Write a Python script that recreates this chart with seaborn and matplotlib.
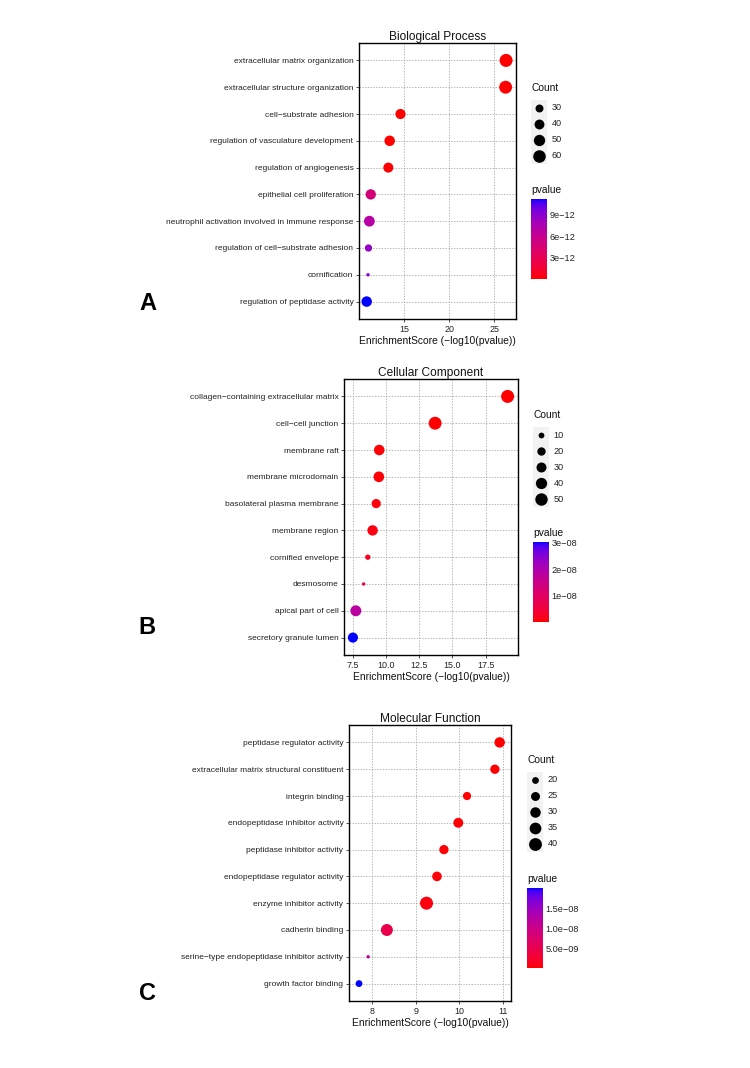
import numpy as np
import pandas as pd
import seaborn as sns
import matplotlib.pyplot as plt
from matplotlib.colors import LinearSegmentedColormap, Normalize
from matplotlib.cm import ScalarMappable

# ---- data ----
bp_terms = ["extracellular matrix organization", "extracellular structure organization",
            "cell\u2212substrate adhesion", "regulation of vasculature development",
            "regulation of angiogenesis", "epithelial cell proliferation",
            "neutrophil activation involved in immune response",
            "regulation of cell\u2212substrate adhesion", "cornification",
            "regulation of peptidase activity"]
bp_score = [26.3, 26.25, 14.6, 13.4, 13.25, 11.3, 11.15, 11.05, 11.0, 10.85]
bp_count = [64, 63, 42, 44, 41, 43, 46, 27, 20, 44]
bp_pvalue = [5e-27, 6e-27, 2.3e-15, 3.6e-14, 5.4e-14, 4.8e-12, 6.9e-12, 8.6e-12, 8.9e-12, 1.12e-11]

cc_terms = ["collagen\u2212containing extracellular matrix", "cell\u2212cell junction",
            "membrane raft", "membrane microdomain", "basolateral plasma membrane",
            "membrane region", "cornified envelope", "desmosome",
            "apical part of cell", "secretory granule lumen"]
cc_score = [19.15, 13.7, 9.5, 9.47, 9.27, 9.0, 8.64, 8.33, 7.74, 7.52]
cc_count = [56, 55, 34, 35, 25, 33, 9, 7, 37, 31]
cc_pvalue = [7e-20, 2e-14, 3.2e-10, 3.4e-10, 5.4e-10, 1.0e-9, 2.3e-9, 4.7e-9, 1.8e-8, 3.02e-8]

mf_terms = ["peptidase regulator activity", "extracellular matrix structural constituent",
            "integrin binding", "endopeptidase inhibitor activity",
            "peptidase inhibitor activity", "endopeptidase regulator activity",
            "enzyme inhibitor activity", "cadherin binding",
            "serine\u2212type endopeptidase inhibitor activity", "growth factor binding"]
mf_score = [10.93, 10.82, 10.18, 9.98, 9.65, 9.49, 9.25, 8.34, 7.91, 7.70]
mf_count = [30, 26, 23, 28, 26, 27, 41, 36, 17, 20]
mf_pvalue = [1.2e-11, 1.5e-11, 6.6e-11, 1.05e-10, 2.2e-10, 3.2e-10, 5.6e-10, 4.6e-9, 1.23e-8, 2.0e-8]

W, H = 750, 1068
FONT = ["Liberation Sans", "DejaVu Sans"]


def px_rect(l, t, r, b):
    return [l / W, 1 - b / H, (r - l) / W, (b - t) / H]


# red -> blue gradient interpolated in Lab, like ggplot's scale_colour_gradient
def srgb_to_lab(rgb):
    c = np.asarray(rgb, float)
    c = np.where(c > 0.04045, ((c + 0.055) / 1.055) ** 2.4, c / 12.92)
    M = np.array([[0.4124, 0.3576, 0.1805], [0.2126, 0.7152, 0.0722], [0.0193, 0.1192, 0.9505]])
    xyz = M @ c / np.array([0.95047, 1.0, 1.08883])
    f = np.where(xyz > 0.008856, np.cbrt(xyz), 7.787 * xyz + 16 / 116)
    return np.array([116 * f[1] - 16, 500 * (f[0] - f[1]), 200 * (f[1] - f[2])])


def lab_to_srgb(lab):
    L, a, b = lab
    fy = (L + 16) / 116
    f = np.array([fy + a / 500, fy, fy - b / 200])
    xyz = np.where(f ** 3 > 0.008856, f ** 3, (f - 16 / 116) / 7.787) * np.array([0.95047, 1.0, 1.08883])
    Minv = np.array([[3.2406, -1.5372, -0.4986], [-0.9689, 1.8758, 0.0415], [0.0557, -0.2040, 1.0570]])
    c = Minv @ xyz
    c = np.where(c > 0.0031308, 1.055 * np.abs(c) ** (1 / 2.4) - 0.055, 12.92 * c)
    return np.clip(c, 0, 1)


lab_r, lab_b = srgb_to_lab([1, 0, 0]), srgb_to_lab([0, 0, 1])
stops = [lab_to_srgb(lab_r + t * (lab_b - lab_r)) for t in np.linspace(0, 1, 64)]
cmap = LinearSegmentedColormap.from_list("red_blue_lab", stops)


def dot_area(c, cmin, cmax, dmin=3.4, dmax=13.0):
    d = dmin + (dmax - dmin) * np.sqrt((c - cmin) / (cmax - cmin))
    return (d * 72 / 100) ** 2


sns.set_theme(style="white")
plt.rcParams["font.family"] = FONT

fig = plt.figure(figsize=(W / 100, H / 100), dpi=100)

panels = [
    dict(title="Biological Process", terms=bp_terms, score=bp_score, count=bp_count, pvalue=bp_pvalue,
         ax=(359, 43, 516, 319), xlim=(10.0, 27.4), xticks=[15, 20, 25], xfmt="{:g}",
         breaks=[30, 40, 50, 60], key=(531, 100, 547), cbar=(531, 199, 547, 279),
         cticks=[3e-12, 6e-12, 9e-12], clabels=["3e\u221212", "6e\u221212", "9e\u221212"],
         letter="A", lpos=(148, 303)),
    dict(title="Cellular Component", terms=cc_terms, score=cc_score, count=cc_count, pvalue=cc_pvalue,
         ax=(344, 379, 518, 655), xlim=(6.85, 19.93), xticks=[7.5, 10, 12.5, 15, 17.5], xfmt="{:.1f}",
         breaks=[10, 20, 30, 40, 50], key=(533, 427, 549), cbar=(533, 542, 549, 622),
         cticks=[1e-8, 2e-8, 3e-8], clabels=["1e\u221208", "2e\u221208", "3e\u221208"],
         letter="B", lpos=(147, 628)),
    dict(title="Molecular Function", terms=mf_terms, score=mf_score, count=mf_count, pvalue=mf_pvalue,
         ax=(349, 725, 511, 1001), xlim=(7.47, 11.19), xticks=[8, 9, 10, 11], xfmt="{:g}",
         breaks=[20, 25, 30, 35, 40], key=(527, 772, 543), cbar=(527, 888, 543, 968),
         cticks=[5e-9, 1e-8, 1.5e-8], clabels=["5.0e\u221209", "1.0e\u221208", "1.5e\u221208"],
         letter="C", lpos=(147, 993)),
]

for p in panels:
    df = pd.DataFrame({"Term": p["terms"], "Score": p["score"],
                       "Count": p["count"], "pvalue": p["pvalue"]})
    cmin, cmax = df["Count"].min(), df["Count"].max()
    norm = Normalize(df["pvalue"].min(), df["pvalue"].max())
    sizes = {c: dot_area(c, cmin, cmax) for c in df["Count"].unique()}

    ax = fig.add_axes(px_rect(*p["ax"]))
    sns.scatterplot(data=df, x="Score", y="Term", hue="pvalue", hue_norm=norm, palette=cmap,
                    size="Count", sizes=sizes, linewidth=0, legend=False, ax=ax, zorder=3)
    n = len(df)
    ax.set_ylim(n - 0.35, -0.65)
    ax.set_xlim(*p["xlim"])
    ax.set_xticks(p["xticks"])
    ax.set_xticklabels([p["xfmt"].format(v) for v in p["xticks"]])
    ax.set_axisbelow(True)
    ax.grid(True, color="#9a9a9a", linestyle=(0, (2, 2)), linewidth=0.5)
    for s in ax.spines.values():
        s.set_color("black")
        s.set_linewidth(1.0)
    ax.tick_params(axis="both", which="major", length=2.5, width=0.6, color="#333333",
                   labelsize=6.0, labelcolor="#222222", pad=1.5, left=True, bottom=True)
    ax.tick_params(axis="x", labelsize=6.4)
    ax.set_ylabel("")
    ax.set_xlabel("EnrichmentScore (\u2212log10(pvalue))", fontsize=7.4, labelpad=1.5, color="#111111")
    ax.set_title(p["title"], fontsize=8.6, pad=2.5, color="#111111")

    # size legend (ggplot style: grey key background)
    kl, kt, kr = p["key"]
    nb = len(p["breaks"])
    lax = fig.add_axes(px_rect(kl, kt, kr, kt + 16 * nb))
    lax.set_facecolor("#f2f2f2")
    lax.set_xlim(0, 1)
    lax.set_ylim(nb, 0)
    lax.set_xticks([])
    lax.set_yticks([])
    for s in lax.spines.values():
        s.set_visible(False)
    for i, b in enumerate(p["breaks"]):
        lax.scatter([0.5], [i + 0.5], s=dot_area(b, cmin, cmax), color="black", linewidth=0)
        lax.text(1.3, i + 0.5, str(b), fontsize=6.6, va="center", ha="left", color="#222222")
    lax.text(0.0, -0.45, "Count", fontsize=7.4, va="bottom", ha="left", color="#111111")

    # colour bar
    cl, ct, cr, cb = p["cbar"]
    cax = fig.add_axes(px_rect(cl, ct, cr, cb))
    cbar = fig.colorbar(ScalarMappable(norm=norm, cmap=cmap), cax=cax)
    cbar.outline.set_visible(False)
    cbar.set_ticks(p["cticks"])
    cbar.set_ticklabels(p["clabels"])
    cax.tick_params(which="major", direction="in", length=3, width=0.6, color="white",
                    left=True, right=True, labelsize=6.6, labelcolor="#222222", pad=2)
    cax.minorticks_off()
    cax.text(0.0, 1.0 + 4 / (cb - ct), "pvalue", transform=cax.transAxes, fontsize=7.4,
             va="bottom", ha="left", color="#111111")

    fig.text(p["lpos"][0] / W, 1 - p["lpos"][1] / H, p["letter"], fontsize=17,
             fontweight="bold", ha="center", va="center", color="black")

fig.savefig("out.png", dpi=100)
